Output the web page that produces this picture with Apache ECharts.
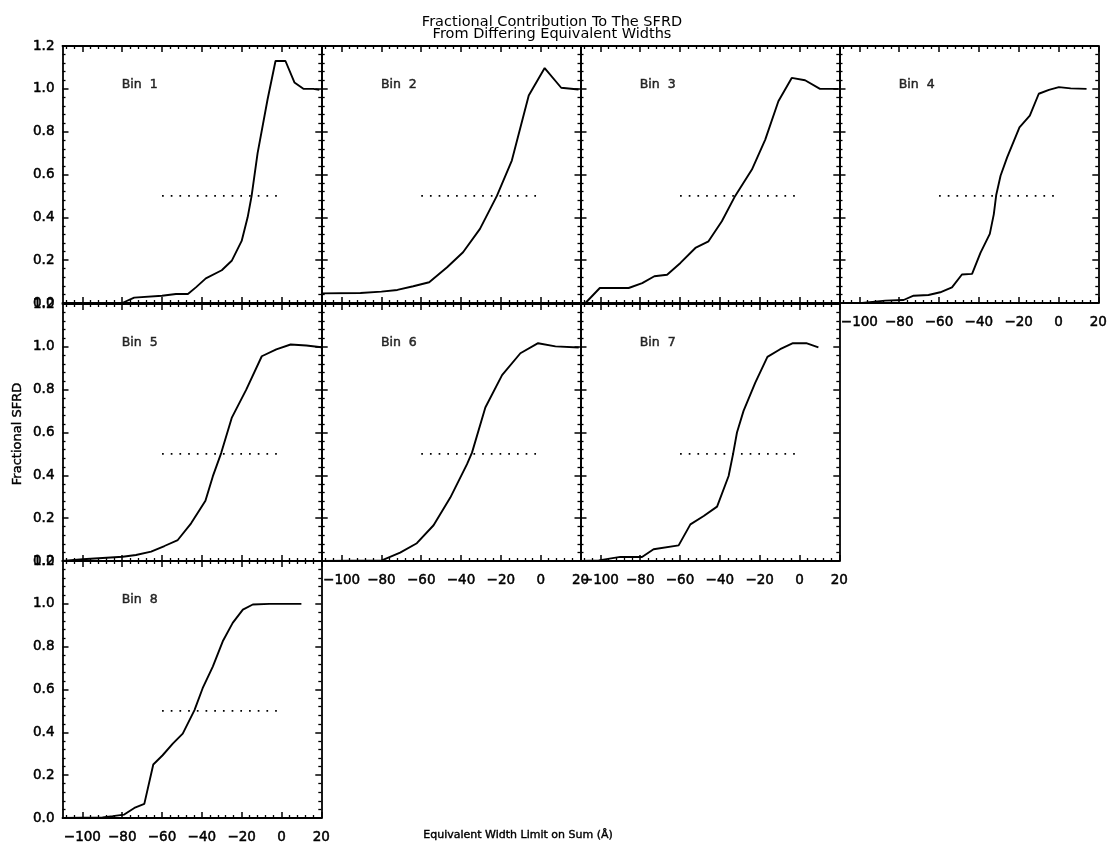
<!DOCTYPE html>
<html><head><meta charset="utf-8">
<script src="https://cdn.jsdelivr.net/npm/echarts@6/dist/echarts.min.js"></script>
<style>html,body{margin:0;padding:0;background:#fff}#c{width:1109px;height:846px}</style>
</head><body><div id="c"></div><script>
// ---- data ----
const binNames = ['Bin  1','Bin  2','Bin  3','Bin  4','Bin  5','Bin  6','Bin  7','Bin  8'];
const xTickLabels = [-100, -80, -60, -40, -20, 0, 20];
const yTickLabels = [0.0, 0.2, 0.4, 0.6, 0.8, 1.0, 1.2];
const refX = [-60, 0];
const refY = [0.5, 0.5];
const binLabelX = [-80];
const binLabelY = [1.0];

const bin1X = [-80, -74, -60, -53, -47, -43, -38, -30, -25, -20, -17, -15, -12, -7, -3, 2, 6.5, 11, 16, 19];
const bin1Y = [0, 0.025, 0.034, 0.042, 0.042, 0.073, 0.115, 0.153, 0.197, 0.29, 0.40, 0.50, 0.70, 0.95, 1.13, 1.13, 1.03, 1.0, 1.0, 0.995];
const bin2X = [-110, -90.5, -80, -72, -64, -56, -47, -39, -30.5, -22, -14.5, -6, 2, 10.3, 19];
const bin2Y = [0.045, 0.047, 0.053, 0.061, 0.078, 0.097, 0.167, 0.237, 0.346, 0.50, 0.665, 0.969, 1.097, 1.005, 0.997];
const bin3X = [-107.5, -100.3, -85.8, -79, -72.9, -66.5, -59.8, -52.3, -45.7, -39, -32.3, -23.9, -17.2, -10.6, -3.9, 2.8, 10.3, 19.5];
const bin3Y = [0, 0.070, 0.070, 0.093, 0.125, 0.132, 0.187, 0.257, 0.288, 0.382, 0.50, 0.623, 0.763, 0.942, 1.051, 1.04, 1.0, 1.0];
const bin4X = [-98.7, -87, -77.8, -72.8, -65.3, -59.4, -53.5, -48.5, -43.4, -39.2, -34.5, -32.5, -31.3, -29.1, -25.8, -19.6, -14.4, -9.9, -4.8, 0.2, 6.1, 14.1];
const bin4Y = [0, 0.011, 0.014, 0.034, 0.0375, 0.05, 0.073, 0.133, 0.136, 0.234, 0.323, 0.414, 0.503, 0.594, 0.68, 0.82, 0.875, 0.977, 0.995, 1.008, 1.002, 1.0];
const bin5X = [-110, -99.9, -79.8, -73.1, -65.5, -58.8, -52.1, -45.4, -38.2, -34.5, -30.3, -25, -17.7, -9.9, -2.6, 4.6, 12.5, 20];
const bin5Y = [0, 0.008, 0.020, 0.028, 0.044, 0.070, 0.098, 0.176, 0.281, 0.395, 0.504, 0.668, 0.80, 0.956, 0.988, 1.011, 1.006, 0.998];
const bin6X = [-110, -79.8, -70.6, -62.2, -53.8, -45.4, -37, -34.5, -27.8, -19.4, -10.2, -1.3, 7.4, 19.1];
const bin6Y = [0, 0.003, 0.039, 0.083, 0.167, 0.296, 0.452, 0.506, 0.717, 0.868, 0.970, 1.017, 1.002, 0.997];
const bin7X = [-110, -100.8, -90, -79.1, -73.3, -60.7, -54.8, -48.1, -41.4, -35.6, -33.4, -31.4, -28.1, -22.2, -16.1, -9.7, -3.3, 3.4, 9.5];
const bin7Y = [0, 0.003, 0.019, 0.019, 0.055, 0.073, 0.171, 0.21, 0.254, 0.397, 0.498, 0.60, 0.701, 0.833, 0.953, 0.989, 1.017, 1.017, 0.997];
const bin8X = [-110, -89.9, -84.8, -79, -73.9, -68.9, -64.4, -59.7, -54.6, -49.6, -43.7, -39.6, -34.5, -29.5, -24.5, -19.4, -14.4, -6, 10];
const bin8Y = [0, 0.003, 0.009, 0.016, 0.047, 0.066, 0.25, 0.293, 0.347, 0.394, 0.504, 0.606, 0.707, 0.825, 0.911, 0.973, 0.997, 1.0, 1.0];

const binsX = [bin1X, bin2X, bin3X, bin4X, bin5X, bin6X, bin7X, bin8X];
const binsY = [bin1Y, bin2Y, bin3Y, bin4Y, bin5Y, bin6Y, bin7Y, bin8Y];

// ---- layout ----
const FONT = 'DejaVu Sans';
const colLeft = [62.5, 321.7, 580.5, 839.5];
const rowTop = [46, 304, 561];
const W = 258.8, H = 257;
const panels = [
  {row:0,col:0,xl:false},{row:0,col:1,xl:false},{row:0,col:2,xl:false},{row:0,col:3,xl:true},
  {row:1,col:0,xl:false},{row:1,col:1,xl:true},{row:1,col:2,xl:true},
  {row:2,col:0,xl:true}
];
const minorX = [];
for (let v = -108; v <= 16; v += 4) if (v % 20 !== 0) minorX.push(v);

const lineC = '#000';
const txt = {color: '#000', fontFamily: FONT, textBorderColor: '#000', textBorderWidth: 0.5};
const grids = [], xAxes = [], yAxes = [], series = [];
const fmtX = v => v < 0 ? '\u2212' + Math.abs(v) : String(v);

panels.forEach((p, i) => {
  grids.push({left: colLeft[p.col], top: rowTop[p.row], width: W, height: H, outerBoundsMode: 'none', containLabel: false});
  ['bottom','top'].forEach(pos => {
    xAxes.push({
      gridIndex: i, type: 'value', min: -110, max: 20, position: pos,
      axisLine: {show: true, onZero: false, lineStyle: {color: lineC, width: 1.8}},
      axisTick: {show: true, inside: true, length: 6, customValues: xTickLabels, lineStyle: {color: lineC, width: 1.5}},
      axisLabel: Object.assign({show: pos === 'bottom' && p.xl, customValues: xTickLabels, formatter: fmtX,
        fontSize: 13.5, margin: 12}, txt),
      splitLine: {show: false}
    });
    xAxes.push({
      gridIndex: i, type: 'value', min: -110, max: 20, position: pos,
      axisLine: {show: false, onZero: false},
      axisTick: {show: true, inside: true, length: 3, customValues: minorX, lineStyle: {color: lineC, width: 1.3}},
      axisLabel: {show: false},
      splitLine: {show: false}
    });
  });
  ['left','right'].forEach(pos => {
    yAxes.push({
      gridIndex: i, type: 'value', min: 0, max: 1.2, interval: 0.2, position: pos,
      axisLine: {show: true, onZero: false, lineStyle: {color: lineC, width: 1.8}},
      axisTick: {show: true, inside: true, length: 6, lineStyle: {color: lineC, width: 1.5}},
      minorTick: {show: true, splitNumber: 5, length: 3, lineStyle: {color: lineC, width: 1.3}},
      axisLabel: Object.assign({show: pos === 'left' && p.col === 0, formatter: v => v.toFixed(1),
        fontSize: 13.5, margin: 8}, txt),
      splitLine: {show: false}, minorSplitLine: {show: false}
    });
  });
  const xi = 4 * i, yi = 2 * i;
  series.push({
    type: 'line', xAxisIndex: xi, yAxisIndex: yi, showSymbol: false, symbol: 'none',
    data: binsX[i].map((x, k) => [x, binsY[i][k]]),
    lineStyle: {color: lineC, width: 1.9}, silent: true, animation: false, clip: false
  });
  series.push({
    type: 'line', xAxisIndex: xi, yAxisIndex: yi, showSymbol: false, symbol: 'none',
    data: refX.map((x, k) => [x, refY[k]]),
    lineStyle: {color: lineC, width: 1.7, type: [1.7, 7.0]}, silent: true, animation: false
  });
  series.push({
    type: 'scatter', xAxisIndex: xi, yAxisIndex: yi, symbolSize: 1,
    itemStyle: {color: 'rgba(0,0,0,0)'},
    data: binLabelX.map((x, k) => [x, binLabelY[k]]),
    label: Object.assign({show: true, formatter: binNames[i], position: [0, 3], align: 'left', verticalAlign: 'bottom',
      fontSize: 12.5}, txt),
    silent: true, animation: false
  });
});

const chart = echarts.init(document.getElementById('c'), null, {renderer: 'canvas'});
chart.setOption({
  backgroundColor: '#fff',
  animation: false,
  title: [{
    text: 'Fractional Contribution To The SFRD\nFrom Differing Equivalent Widths',
    left: 547, top: 11, textAlign: 'center',
    textStyle: {color: '#000', fontFamily: FONT, fontSize: 14.5, fontWeight: 'normal', lineHeight: 12, align: 'center'}
  }],
  grid: grids, xAxis: xAxes, yAxis: yAxes, series: series,
  graphic: [
    {type: 'text', x: 18, y: 434, rotation: Math.PI / 2,
      style: {text: 'Fractional SFRD', font: '13px "DejaVu Sans"', fill: '#000', stroke: '#000', lineWidth: 0.4, textAlign: 'center', textVerticalAlign: 'middle'}},
    {type: 'text', x: 518, y: 835,
      style: {text: 'Equivalent Width Limit on Sum (\u00c5)', font: '11px "DejaVu Sans"', fill: '#000', stroke: '#000', lineWidth: 0.4, textAlign: 'center', textVerticalAlign: 'middle'}}
  ]
});
</script></body></html>
